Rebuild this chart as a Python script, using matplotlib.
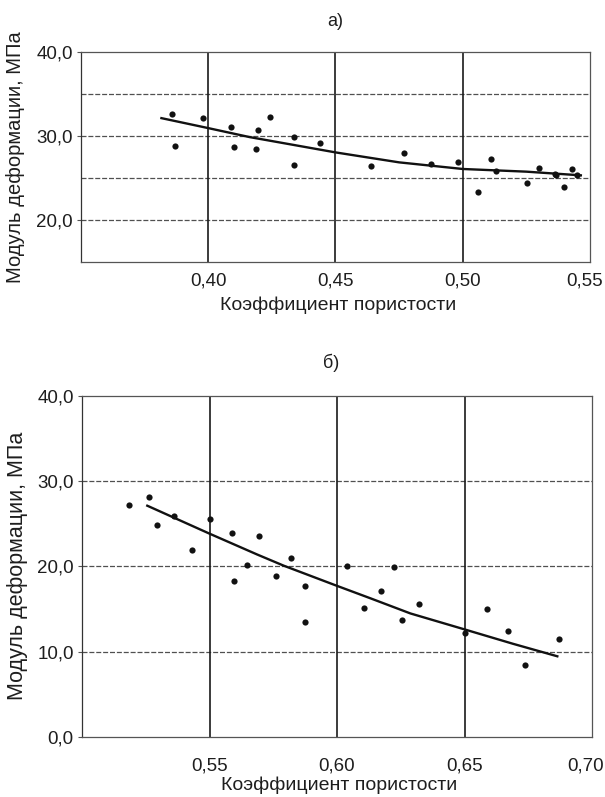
import matplotlib
matplotlib.use("Agg")
import matplotlib.pyplot as plt

plt.rcParams['font.family'] = ['Liberation Sans', 'DejaVu Sans']

# ---- Chart a) data ----
a_x = [0.3856, 0.3871, 0.3978, 0.4088, 0.4100, 0.4194, 0.4187, 0.4241, 0.4335, 0.4335,
       0.4440, 0.4638, 0.4768, 0.4874, 0.4982, 0.5058, 0.5111, 0.5129, 0.5252, 0.5298,
       0.5361, 0.5368, 0.5399, 0.5428, 0.5448]
a_y = [32.64, 28.83, 32.17, 31.05, 28.75, 30.70, 28.47, 32.25, 29.90, 26.60,
       29.18, 26.44, 28.00, 26.68, 26.92, 23.30, 27.24, 25.77, 24.45, 26.24,
       25.45, 25.40, 23.96, 26.02, 25.35]
a_curve_x = [0.3816, 0.400, 0.4162, 0.450, 0.475, 0.500, 0.525, 0.5464]
a_curve_y = [32.14, 30.95, 29.88, 28.05, 26.86, 26.07, 25.75, 25.31]

# ---- Chart b) data ----
b_x = [0.5184, 0.5261, 0.5293, 0.5361, 0.5433, 0.5500, 0.5587, 0.5598, 0.5647, 0.5696,
       0.5760, 0.5819, 0.5874, 0.5875, 0.6041, 0.6106, 0.6172, 0.6224, 0.6255, 0.6320,
       0.6500, 0.6589, 0.6669, 0.6738, 0.6871]
b_y = [27.23, 28.18, 24.82, 25.89, 21.94, 25.57, 23.91, 18.30, 20.16, 23.52,
       18.89, 20.99, 17.71, 13.44, 20.04, 15.14, 17.11, 19.92, 13.75, 15.61,
       12.17, 15.02, 12.37, 8.42, 11.46]
b_curve_x = [0.5256, 0.550, 0.5687, 0.5791, 0.600, 0.6131, 0.6288, 0.650, 0.669, 0.6864]
b_curve_y = [27.12, 23.84, 21.39, 20.08, 17.71, 16.25, 14.47, 12.60, 10.91, 9.44]

a_xticks = [0.40, 0.45, 0.50, 0.55]
a_xtick_labels = ["0,40", "0,45", "0,50", "0,55"]
a_yticks = [20, 30, 40]
a_ytick_labels = ["20,0", "30,0", "40,0"]
a_hgrid = [20, 25, 30, 35]
a_vgrid = [0.40, 0.45, 0.50]

b_xticks = [0.55, 0.60, 0.65, 0.70]
b_xtick_labels = ["0,55", "0,60", "0,65", "0,70"]
b_yticks = [0, 10, 20, 30, 40]
b_ytick_labels = ["0,0", "10,0", "20,0", "30,0", "40,0"]
b_hgrid = [10, 20, 30]
b_vgrid = [0.55, 0.60, 0.65]

xlabel = "Коэффициент пористости"
ylabel = "Модуль деформации, МПа"
titles = ["а)", "б)"]

fig = plt.figure(figsize=(6.05, 7.97), dpi=100)
W, H = 605, 797
TXT = '#1e1e1e'

def make_ax(l, r, t, b):
    return fig.add_axes([l / W, 1 - b / H, (r - l) / W, (b - t) / H])

ax1 = make_ax(81, 590, 52.3, 261.7)
ax2 = make_ax(82, 592, 396, 736.7)

def style(ax, xlim, ylim, xt, xtl, yt, ytl, hg, vg, xpad, ylab_size,
          ylab_x, xlab_y, last_dx):
    ax.set_xlim(*xlim)
    ax.set_ylim(*ylim)
    for v in hg:
        ax.axhline(v, color='#505050', lw=0.9, ls=(0, (4, 1.5)), zorder=1)
    for v in vg:
        ax.axvline(v, color='#1a1a1a', lw=1.2, zorder=1)
    ax.set_xticks(xt)
    ax.set_xticklabels(xtl[:-1] + [""])
    # last x label sits at the right edge, right-aligned to stay in the figure
    ax.annotate(xtl[-1], xy=(xt[-1], 0), xycoords=('data', 'axes fraction'),
                xytext=(last_dx, -xpad), textcoords='offset points',
                ha='right', va='top', fontsize=13.5, color=TXT)
    ax.set_yticks(yt)
    ax.set_yticklabels(ytl)
    ax.tick_params(axis='x', length=0, pad=xpad, labelsize=13.5, colors=TXT)
    ax.tick_params(axis='y', length=3, pad=3, labelsize=13.5, colors=TXT, color='#555555')
    for s in ax.spines.values():
        s.set_color('#555555')
        s.set_linewidth(0.9)
    ax.spines['left'].set_color('#333333')
    ax.set_xlabel(xlabel, fontsize=14, color=TXT)
    ax.xaxis.set_label_coords(0.505, xlab_y)
    ax.set_ylabel(ylabel, fontsize=ylab_size, color=TXT)
    ax.yaxis.set_label_coords(ylab_x, 0.5)

style(ax1, (0.35, 0.55), (15, 40), a_xticks, a_xtick_labels, a_yticks, a_ytick_labels,
      a_hgrid, a_vgrid, 8, 14.5, -0.110, -0.168, 9.5)
ax1.scatter(a_x, a_y, s=20, color='#111111', zorder=3, linewidths=0)
ax1.plot(a_curve_x, a_curve_y, color='#111111', lw=1.7, zorder=2)

style(ax2, (0.50, 0.70), (0, 40), b_xticks, b_xtick_labels, b_yticks, b_ytick_labels,
      b_hgrid, b_vgrid, 15, 15.5, -0.106, -0.118, 8.5)
ax2.scatter(b_x, b_y, s=20, color='#111111', zorder=3, linewidths=0)
ax2.plot(b_curve_x, b_curve_y, color='#111111', lw=1.7, zorder=2)

fig.text(335 / W, 1 - 21 / H, titles[0], ha='center', va='center', fontsize=13, color=TXT)
fig.text(331 / W, 1 - 363 / H, titles[1], ha='center', va='center', fontsize=13, color=TXT)

fig.savefig("out.png", dpi=100, facecolor='white')
